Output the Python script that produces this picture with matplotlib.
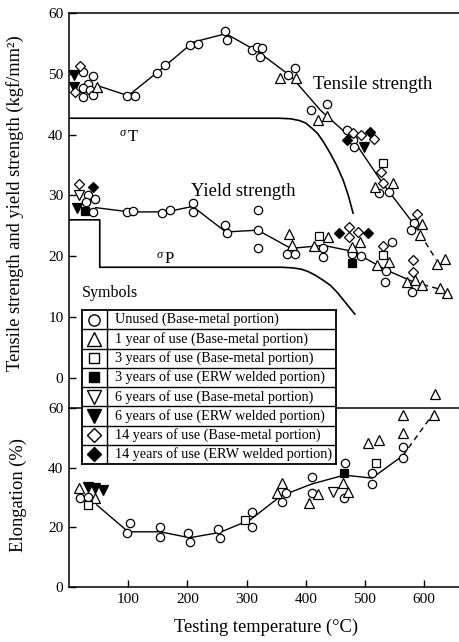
import numpy as np
import matplotlib.pyplot as plt

plt.rcParams['font.family'] = ['Liberation Serif', 'DejaVu Serif']

# symbol codes and legend labels
sym_keys = ['U', '1', '3B', '3W', '6B', '6W', '14B', '14W']
sym_labels = [
    'Unused (Base-metal portion)',
    '1 year of use (Base-metal portion)',
    '3 years of use (Base-metal portion)',
    '3 years of use (ERW welded portion)',
    '6 years of use (Base-metal portion)',
    '6 years of use (ERW welded portion)',
    '14 years of use (Base-metal portion)',
    '14 years of use (ERW welded portion)',
]

# tensile strength (kgf/mm2)
ts_temp = [18, 24, 40, 32, 24, 35, 24, 40, 8, 8, 10, 47, 98, 111, 148, 162, 204, 218,
           263, 267, 309, 318, 326, 323, 356, 370, 382, 383, 409, 436, 421, 436, 470, 480,
           481, 480, 493, 515, 470, 508, 498, 530, 528, 530, 517, 547, 524, 541, 588, 583,
           596, 578, 593, 621, 635]
ts_val = [51.3, 50.3, 49.7, 48.4, 47.7, 47.4, 46.2, 46.5, 49.8, 47.9, 47.0, 47.9, 46.4, 46.4,
          50.2, 51.5, 54.8, 54.9, 57.1, 55.6, 53.9, 54.4, 54.3, 52.8, 49.3, 49.8, 51.0, 49.3,
          44.1, 45.1, 42.4, 43.1, 40.8, 39.1, 38.0, 40.3, 39.9, 39.3, 39.1, 40.5, 38.0, 35.4,
          33.9, 32.1, 31.4, 32.1, 30.4, 30.6, 27.0, 25.5, 25.3, 24.3, 23.5, 18.8, 19.5]
ts_sym = ['14B', 'U', 'U', 'U', 'U', 'U', 'U', 'U', '6W', '6W', '14B', '1', 'U', 'U', 'U', 'U',
          'U', 'U', 'U', 'U', 'U', 'U', 'U', 'U', '1', 'U', 'U', '1', 'U', 'U', '1', '1', 'U',
          'U', 'U', '14B', '14B', '14B', '14W', '14W', '6W', '3B', '14B', '14B', '1', '1', 'U',
          'U', '14B', 'U', '1', 'U', '1', '1', '1']
ts_line_temp = [50, 100, 150, 210, 265, 320, 375, 425, 480, 530, 585, 620]
ts_line_val = [48.0, 46.4, 50.3, 55.2, 56.6, 53.6, 49.6, 44.0, 39.2, 32.0, 25.0, 19.5]

# yield strength (kgf/mm2)
ys_temp = [17, 40, 17, 32, 29, 44, 40, 14, 27, 98, 108, 157, 171, 209, 209, 264, 267, 319,
           319, 319, 372, 376, 368, 382, 414, 422, 437, 429, 429, 456, 505, 473, 473, 488,
           478, 492, 478, 493, 478, 545, 530, 530, 520, 541, 535, 534, 581, 581, 571, 584,
           596, 579, 627, 638]
ys_val = [31.9, 31.4, 30.1, 30.1, 28.9, 29.4, 27.3, 28.0, 27.5, 27.3, 27.5, 27.1, 27.6, 28.8,
          27.3, 25.2, 23.8, 27.6, 24.3, 21.4, 23.7, 21.9, 20.4, 20.4, 21.7, 23.4, 23.2, 21.4,
          19.9, 23.8, 23.8, 24.8, 23.2, 24.0, 21.5, 22.4, 20.4, 20.1, 18.9, 22.4, 21.7, 20.2,
          18.6, 19.1, 17.6, 15.8, 19.4, 17.4, 15.8, 16.1, 15.3, 14.1, 14.8, 14.0]
ys_sym = ['14B', '14W', '6B', 'U', 'U', 'U', 'U', '6W', '3W', 'U', 'U', 'U', 'U', 'U', 'U',
          'U', 'U', 'U', 'U', 'U', '1', '1', 'U', 'U', '1', '3B', '1', 'U', 'U', '14W', '14W',
          '14B', '14B', '14B', '1', '1', 'U', 'U', '3W', 'U', '14B', '3B', '1', '1', 'U', 'U',
          '14B', '14B', '1', '1', '1', 'U', '1', '1']
ys_line_temp = [45, 103, 164, 209, 265, 319, 375, 430, 480, 535, 582, 630]
ys_line_val = [28.0, 27.3, 27.3, 28.2, 24.0, 24.3, 21.3, 21.8, 20.8, 17.8, 15.8, 14.5]

# elongation (%)
el_temp = [17, 32, 44, 57, 19, 32, 44, 32, 103, 98, 154, 154, 201, 204, 252, 255, 298, 310,
           309, 351, 360, 367, 360, 410, 410, 405, 421, 446, 463, 471, 465, 465, 466, 512,
           512, 519, 505, 524, 564, 564, 564, 564, 618, 617]
el_val = [33.2, 33.6, 33.2, 32.6, 29.9, 30.2, 29.9, 27.5, 21.5, 18.1, 20.1, 16.8, 18.1, 15.1,
          19.5, 16.4, 22.5, 25.0, 20.1, 31.5, 34.9, 31.5, 28.5, 36.9, 31.5, 28.2, 31.2, 31.9,
          34.9, 31.9, 29.9, 38.3, 41.6, 38.3, 34.6, 41.6, 48.3, 49.3, 43.3, 47.0, 51.7, 57.7,
          64.6, 57.7]
el_sym = ['1', '6W', '6W', '6W', 'U', 'U', '1', '3B', 'U', 'U', 'U', 'U', 'U', 'U', 'U', 'U',
          '3B', 'U', 'U', '1', '1', 'U', 'U', 'U', 'U', '1', '1', '6B', '1', '1', 'U', '3W',
          'U', 'U', 'U', '3B', '1', '1', 'U', 'U', '1', '1', '1', '1']
el_line_temp = [47, 100, 154, 204, 255, 306, 358, 410, 465, 512, 564, 617]
el_line_val = [27.5, 18.5, 18.5, 16.5, 18.3, 22.5, 30.5, 34.5, 37.5, 36.5, 44.0, 58.5]

# allowable stress curves
sigma_t_temp = [0, 355, 375, 390, 400, 410, 420, 430, 441, 452, 463, 472, 480]
sigma_t_val = [42.7, 42.7, 42.6, 42.3, 41.9, 41.1, 40.2, 38.8, 37.0, 35.0, 32.6, 30.0, 27.1]
sigma_p_temp = [0, 52, 52, 360, 378, 392, 404, 416, 429, 442, 453, 463, 473, 483]
sigma_p_val = [26.0, 26.0, 18.2, 18.2, 18.1, 17.9, 17.5, 16.9, 16.1, 15.2, 14.1, 12.9, 11.7, 10.5]

styles = {
    'U': ('o', 'white', 6.0),
    '1': ('^', 'white', 7.0),
    '3B': ('s', 'white', 5.5),
    '3W': ('s', 'black', 5.5),
    '6B': ('v', 'white', 7.0),
    '6W': ('v', 'black', 7.0),
    '14B': ('D', 'white', 5.0),
    '14W': ('D', 'black', 5.0),
}


def draw_points(ax, temp, val, sym):
    temp = np.array(temp)
    val = np.array(val)
    sym = np.array(sym)
    for key in sym_keys:
        m = sym == key
        if not m.any():
            continue
        mk, fc, ms = styles[key]
        ax.plot(temp[m], val[m], linestyle='none', marker=mk, ms=ms, mfc=fc,
                mec='black', mew=0.9, zorder=4, clip_on=False)


def draw_curve(ax, t, v):
    ax.plot(t[:-1], v[:-1], color='black', lw=1.0, zorder=2)
    ax.plot(t[-2:], v[-2:], color='black', lw=1.0, ls=(0, (4, 3)), zorder=2)


fig = plt.figure(figsize=(4.59, 6.42), dpi=100)
ax1 = fig.add_axes([0.1503, 0.3645, 0.8497, 0.6153])
ax2 = fig.add_axes([0.1503, 0.0857, 0.8497, 0.2788])

for ax in (ax1, ax2):
    ax.set_xlim(0, 659)
    ax.spines['right'].set_visible(False)
    for s in ax.spines.values():
        s.set_linewidth(1.1)
    ax.tick_params(direction='in', length=5, width=1, labelsize=11, pad=4)

ax1.set_ylim(-4.93, 60)
ax1.spines['bottom'].set_visible(False)
ax1.set_yticks(np.arange(0, 61, 10))
ax1.tick_params(axis='x', bottom=False, labelbottom=False)

ax2.set_ylim(0, 60)
ax2.set_yticks([0, 20, 40, 60])
ax2.set_xticks([100, 200, 300, 400, 500, 600])

ax1.plot(sigma_t_temp, sigma_t_val, color='black', lw=1.2, zorder=1)
ax1.plot(sigma_p_temp, sigma_p_val, color='black', lw=1.2, zorder=1)

draw_curve(ax1, ts_line_temp, ts_line_val)
draw_curve(ax1, ys_line_temp, ys_line_val)
draw_curve(ax2, el_line_temp, el_line_val)

draw_points(ax1, ts_temp, ts_val, ts_sym)
draw_points(ax1, ys_temp, ys_val, ys_sym)
draw_points(ax2, el_temp, el_val, el_sym)

ax1.text(412, 48.2, 'Tensile strength', fontsize=13.5, va='center', ha='left')
ax1.text(206, 30.6, 'Yield strength', fontsize=13.3, va='center', ha='left')
ax1.text(86, 40.2, 'σ', fontsize=9, style='italic', va='center', ha='left')
ax1.text(100, 39.6, 'T', fontsize=12, va='center', ha='left')
ax1.text(148, 20.2, 'σ', fontsize=9, style='italic', va='center', ha='left')
ax1.text(162, 19.6, 'P', fontsize=12, va='center', ha='left')

fig.text(15 / 459, 1 - 203 / 642, 'Tensile strength and yield strength (kgf/mm²)',
         rotation=90, ha='center', va='center', fontsize=13.3)
fig.text(18 / 459, 1 - 495 / 642, 'Elongation (%)', rotation=90, ha='center',
         va='center', fontsize=13.3)
fig.text(266 / 459, 1 - 627 / 642, 'Testing temperature (°C)', ha='center',
         va='center', fontsize=13.3)

# symbols table
fig.text(82 / 459, 1 - 293 / 642, 'Symbols', ha='left', va='center', fontsize=11.5)
lg = fig.add_axes([82 / 459, 1 - 464 / 642, 254 / 459, 154 / 642])
lg.set_xlim(0, 1)
lg.set_ylim(0, 8)
lg.set_xticks([])
lg.set_yticks([])
lg.set_facecolor('white')
for s in lg.spines.values():
    s.set_linewidth(1.3)
lg.axvline(0.098, color='black', lw=1.0)
for i in range(1, 8):
    lg.axhline(i, color='black', lw=1.0)
for i, (key, label) in enumerate(zip(sym_keys, sym_labels)):
    y = 7.5 - i
    mk, fc, ms = styles[key]
    lg.plot([0.049], [y], marker=mk, ms=ms * 1.35, mfc=fc, mec='black', mew=1.0)
    lg.text(0.13, y, label, fontsize=10.2, va='center', ha='left')

fig.savefig('out.png', dpi=100)
